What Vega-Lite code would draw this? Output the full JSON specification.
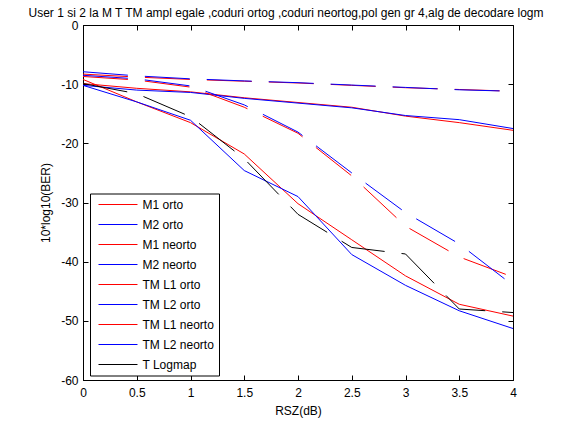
{
  "$schema": "https://vega.github.io/schema/vega-lite/v6.json",
  "width": 430,
  "height": 355,
  "autosize": {"type": "none"},
  "padding": {"left": 83, "top": 25, "right": 66, "bottom": 43},
  "background": "white",
  "title": {"text": "User 1 si 2 la M T TM ampl egale ,coduri ortog ,coduri neortog,pol gen gr 4,alg de decodare logm", "font": "Liberation Sans", "fontSize": 12, "fontWeight": "normal", "color": "black", "anchor": "middle", "baseline": "alphabetic", "dx": -12, "offset": -10},
  "config": {
    "view": {"stroke": "black", "strokeWidth": 1},
    "font": "Liberation Sans",
    "axis": {"grid": false, "domainColor": "black", "tickColor": "black", "labelColor": "black", "titleColor": "black", "labelFont": "Liberation Sans", "titleFont": "Liberation Sans", "labelFontSize": 12, "titleFontSize": 12, "titleFontWeight": "normal", "tickSize": -5, "labelFlush": false, "labelOverlap": false}
  },
  "data": {"values": [
    {"series": "M1 orto", "x": 0, "y": -9.9}, {"series": "M1 orto", "x": 0.5, "y": -10.7}, {"series": "M1 orto", "x": 1, "y": -11.3}, {"series": "M1 orto", "x": 1.5, "y": -12.3}, {"series": "M1 orto", "x": 2, "y": -13.1}, {"series": "M1 orto", "x": 2.5, "y": -13.9}, {"series": "M1 orto", "x": 3, "y": -15.4}, {"series": "M1 orto", "x": 3.5, "y": -16.5}, {"series": "M1 orto", "x": 4, "y": -17.8},
    {"series": "M2 orto", "x": 0, "y": -10.2}, {"series": "M2 orto", "x": 0.5, "y": -11.0}, {"series": "M2 orto", "x": 1, "y": -11.4}, {"series": "M2 orto", "x": 1.5, "y": -12.4}, {"series": "M2 orto", "x": 2, "y": -13.2}, {"series": "M2 orto", "x": 2.5, "y": -14.0}, {"series": "M2 orto", "x": 3, "y": -15.3}, {"series": "M2 orto", "x": 3.5, "y": -16.0}, {"series": "M2 orto", "x": 4, "y": -17.5},
    {"series": "M1 neorto", "x": 0, "y": -8.3}, {"series": "M1 neorto", "x": 0.5, "y": -8.8}, {"series": "M1 neorto", "x": 1, "y": -9.2}, {"series": "M1 neorto", "x": 1.5, "y": -9.5}, {"series": "M1 neorto", "x": 2, "y": -9.8}, {"series": "M1 neorto", "x": 2.5, "y": -10.2}, {"series": "M1 neorto", "x": 3, "y": -10.6}, {"series": "M1 neorto", "x": 3.5, "y": -10.9}, {"series": "M1 neorto", "x": 4, "y": -11.2},
    {"series": "M2 neorto", "x": 0, "y": -7.9}, {"series": "M2 neorto", "x": 0.5, "y": -8.6}, {"series": "M2 neorto", "x": 1, "y": -9.1}, {"series": "M2 neorto", "x": 1.5, "y": -9.45}, {"series": "M2 neorto", "x": 2, "y": -9.75}, {"series": "M2 neorto", "x": 2.5, "y": -10.15}, {"series": "M2 neorto", "x": 3, "y": -10.55}, {"series": "M2 neorto", "x": 3.5, "y": -10.95}, {"series": "M2 neorto", "x": 4, "y": -11.2},
    {"series": "TM L1 orto", "x": 0, "y": -9.2}, {"series": "TM L1 orto", "x": 0.5, "y": -13.0}, {"series": "TM L1 orto", "x": 1, "y": -16.5}, {"series": "TM L1 orto", "x": 1.5, "y": -21.8}, {"series": "TM L1 orto", "x": 2, "y": -30.2}, {"series": "TM L1 orto", "x": 2.5, "y": -36.3}, {"series": "TM L1 orto", "x": 3, "y": -42.4}, {"series": "TM L1 orto", "x": 3.5, "y": -47.2}, {"series": "TM L1 orto", "x": 4, "y": -49.2},
    {"series": "TM L2 orto", "x": 0, "y": -10.2}, {"series": "TM L2 orto", "x": 0.5, "y": -13.0}, {"series": "TM L2 orto", "x": 1, "y": -16.1}, {"series": "TM L2 orto", "x": 1.5, "y": -24.6}, {"series": "TM L2 orto", "x": 2, "y": -29.0}, {"series": "TM L2 orto", "x": 2.5, "y": -38.8}, {"series": "TM L2 orto", "x": 3, "y": -44.0}, {"series": "TM L2 orto", "x": 3.5, "y": -48.3}, {"series": "TM L2 orto", "x": 4, "y": -51.3},
    {"series": "TM L1 neorto", "x": 0, "y": -8.7}, {"series": "TM L1 neorto", "x": 0.5, "y": -9.3}, {"series": "TM L1 neorto", "x": 1, "y": -10.5}, {"series": "TM L1 neorto", "x": 1.5, "y": -13.9}, {"series": "TM L1 neorto", "x": 2, "y": -18.3}, {"series": "TM L1 neorto", "x": 2.5, "y": -25.5}, {"series": "TM L1 neorto", "x": 3, "y": -34.0}, {"series": "TM L1 neorto", "x": 3.5, "y": -39.2}, {"series": "TM L1 neorto", "x": 4, "y": -42.6},
    {"series": "TM L2 neorto", "x": 0, "y": -8.5}, {"series": "TM L2 neorto", "x": 0.5, "y": -9.1}, {"series": "TM L2 neorto", "x": 1, "y": -10.3}, {"series": "TM L2 neorto", "x": 1.5, "y": -13.5}, {"series": "TM L2 neorto", "x": 2, "y": -18.1}, {"series": "TM L2 neorto", "x": 2.5, "y": -25.0}, {"series": "TM L2 neorto", "x": 3, "y": -31.7}, {"series": "TM L2 neorto", "x": 3.5, "y": -37.0}, {"series": "TM L2 neorto", "x": 4, "y": -44.0},
    {"series": "T Logmap", "x": 0, "y": -9.9}, {"series": "T Logmap", "x": 0.5, "y": -11.6}, {"series": "T Logmap", "x": 1, "y": -15.5}, {"series": "T Logmap", "x": 1.5, "y": -22.6}, {"series": "T Logmap", "x": 2, "y": -32.0}, {"series": "T Logmap", "x": 2.5, "y": -37.6}, {"series": "T Logmap", "x": 3, "y": -38.7}, {"series": "T Logmap", "x": 3.5, "y": -48.0}, {"series": "T Logmap", "x": 4, "y": -48.6}
  ]},
  "layer": [
    {
      "mark": {"type": "line", "strokeWidth": 1, "clip": true},
      "encoding": {
        "x": {"field": "x", "type": "quantitative", "scale": {"domain": [0, 4], "nice": false, "zero": false},
              "axis": {"orient": "bottom", "title": "RSZ(dB)", "values": [0, 0.5, 1, 1.5, 2, 2.5, 3, 3.5, 4], "labelPadding": 12, "titlePadding": 7, "labelExpr": "'' + datum.value"}},
        "y": {"field": "y", "type": "quantitative", "scale": {"domain": [-60, 0], "nice": false, "zero": false},
              "axis": {"orient": "left", "title": "10*log10(BER)", "values": [0, -10, -20, -30, -40, -50, -60], "labelPadding": 10, "titlePadding": 8, "labelExpr": "'' + datum.value"}},
        "color": {"field": "series", "type": "nominal",
                  "scale": {"domain": ["M1 orto", "M2 orto", "M1 neorto", "M2 neorto", "TM L1 orto", "TM L2 orto", "TM L1 neorto", "TM L2 neorto", "T Logmap"],
                            "range": ["#ff0000", "#0000ff", "#ff0000", "#0000ff", "#ff0000", "#0000ff", "#ff0000", "#0000ff", "#000000"]},
                  "legend": {"orient": "none", "legendX": 7, "legendY": 168.5, "title": null, "symbolType": "M-4,0H4", "symbolSize": 95, "symbolStrokeWidth": 1, "symbolDash": [], "labelFontSize": 12, "labelFont": "Liberation Sans", "labelColor": "black", "padding": 5, "rowPadding": 8, "strokeColor": "black", "fillColor": "white", "symbolOffset": 17, "labelOffset": 18.5, "labelLimit": 200}},
        "strokeDash": {"field": "series", "type": "nominal",
                       "scale": {"domain": ["M1 orto", "M2 orto", "M1 neorto", "M2 neorto", "TM L1 orto", "TM L2 orto", "TM L1 neorto", "TM L2 neorto", "T Logmap"],
                                 "range": [[1000, 0], [1000, 0], [45, 17], [45, 17], [1000, 0], [1000, 0], [45, 17], [45, 17], [45, 17]]},
                       "legend": null}
      }
    },
    {
      "mark": {"type": "point", "opacity": 0},
      "encoding": {
        "x": {"field": "x", "type": "quantitative", "axis": {"orient": "top", "labels": false, "title": null, "domain": false, "values": [0, 0.5, 1, 1.5, 2, 2.5, 3, 3.5, 4]}},
        "y": {"field": "y", "type": "quantitative", "axis": {"orient": "right", "labels": false, "title": null, "domain": false, "values": [0, -10, -20, -30, -40, -50, -60]}}
      }
    }
  ]
}
